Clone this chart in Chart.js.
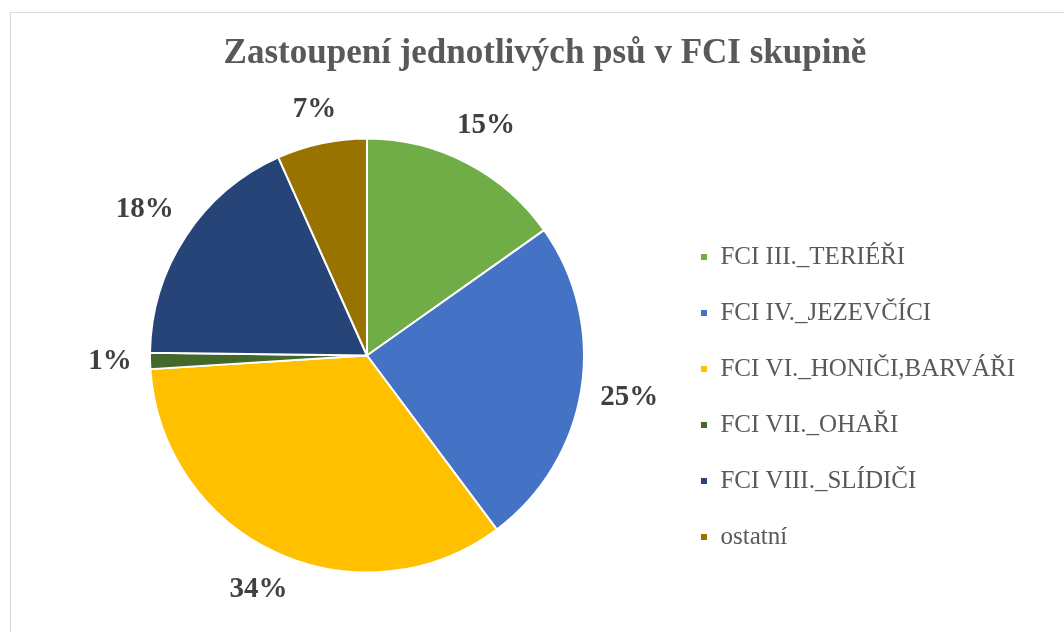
<!DOCTYPE html>
<html>
<head>
<meta charset="utf-8">
<script src="https://cdn.jsdelivr.net/npm/chart.js@4"></script>
<style>
  html, body { margin: 0; padding: 0; background: #fff; overflow: hidden; }
  #frame { position: absolute; left: 10px; top: 12px; width: 1100px; height: 700px; border: 1px solid #d9d9d9; }
  #wrap { position: relative; width: 1053px; height: 619px; }
</style>
</head>
<body>
<div id="frame">
  <div id="wrap"><canvas id="pie"></canvas></div>
</div>
<script>
// Data (share of each FCI group, in %)
const groups = [
  'FCI III._TERIÉŘI',
  'FCI IV._JEZEVČÍCI',
  'FCI VI._HONIČI,BARVÁŘI',
  'FCI VII._OHAŘI',
  'FCI VIII._SLÍDIČI',
  'ostatní'
];
const shares = [15.2, 24.6, 34.2, 1.2, 18.1, 6.7];
const sliceColors = ['#70AD47', '#4472C4', '#FFC000', '#43682B', '#264478', '#997300'];

const serif = "'Liberation Serif', 'Times New Roman', serif";

// percent labels outside each slice
const outsideLabels = {
  id: 'outsideLabels',
  afterDatasetsDraw(chart) {
    const ctx = chart.ctx;
    const data = chart.data.datasets[0].data;
    const total = data.reduce((a, b) => a + b, 0);
    const meta = chart.getDatasetMeta(0);
    ctx.save();
    ctx.font = 'bold 29px ' + serif;
    ctx.fillStyle = '#404040';
    ctx.textAlign = 'center';
    ctx.textBaseline = 'middle';
    meta.data.forEach((arc, i) => {
      const p = arc.getProps(['x', 'y', 'startAngle', 'endAngle', 'outerRadius'], true);
      const mid = (p.startAngle + p.endAngle) / 2;
      const txt = Math.round(data[i] / total * 100) + '%';
      const w = ctx.measureText(txt).width;
      const h = 24;
      const c = Math.cos(mid), s = Math.sin(mid);
      const ext = Math.abs(c) * w / 2 + Math.abs(s) * h / 2;
      const r = p.outerRadius + 18 + ext;
      ctx.fillText(txt, p.x + c * r, p.y + s * r);
    });
    ctx.restore();
  }
};

new Chart(document.getElementById('pie'), {
  type: 'pie',
  data: {
    labels: groups,
    datasets: [{
      data: shares,
      backgroundColor: sliceColors,
      borderColor: '#ffffff',
      borderWidth: 2,
      radius: 217
    }]
  },
  options: {
    responsive: true,
    maintainAspectRatio: false,
    animation: false,
    layout: { padding: { left: 54, right: 39, top: 0, bottom: 15 } },
    plugins: {
      title: {
        display: true,
        text: 'Zastoupení jednotlivých psů v FCI skupině',
        color: '#595959',
        font: { family: serif, size: 35, weight: 'bold' },
        padding: { top: 20, bottom: 19 }
      },
      legend: {
        position: 'right',
        title: { display: true, text: '', font: { size: 10 }, padding: { top: 152, bottom: 0 } },
        labels: {
          boxWidth: 8,
          boxHeight: 8,
          padding: 31,
          color: '#595959',
          font: { family: serif, size: 25 }
        }
      },
      tooltip: { enabled: false }
    }
  },
  plugins: [outsideLabels]
});
</script>
</body>
</html>
